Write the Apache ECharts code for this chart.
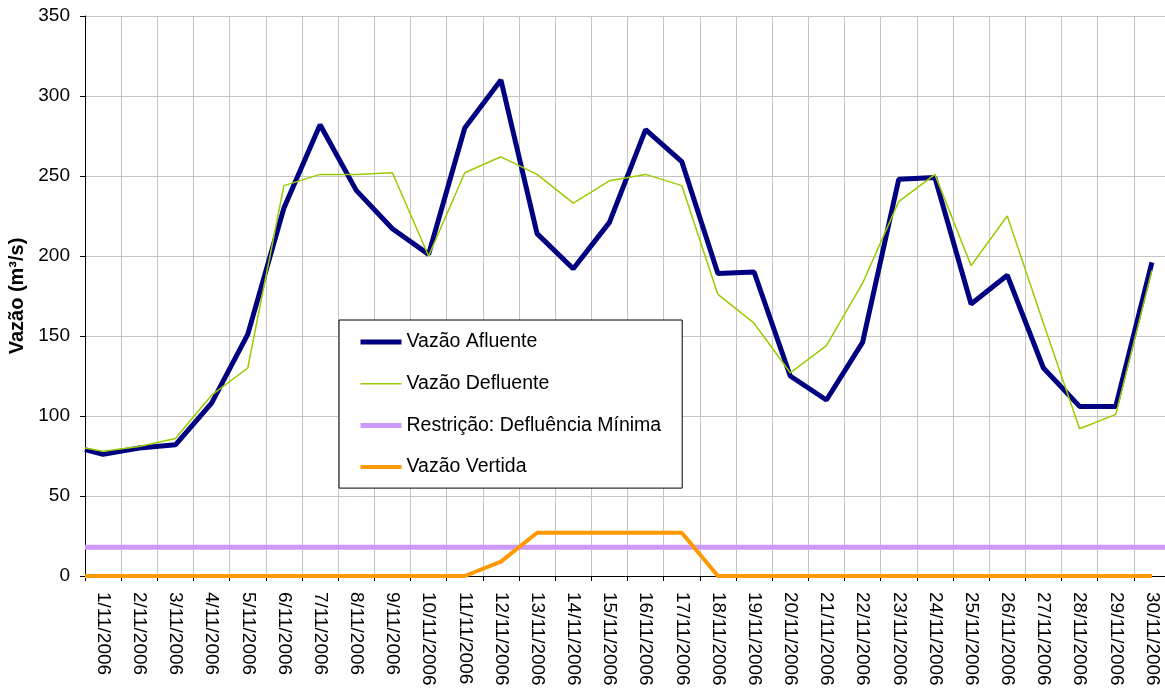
<!DOCTYPE html>
<html>
<head>
<meta charset="utf-8">
<title>Vazões - Novembro 2006</title>
<script src="https://cdn.jsdelivr.net/npm/echarts@6/dist/echarts.min.js"></script>
<style>
  html, body { margin: 0; padding: 0; background: #ffffff; }
  #chart { width: 1165px; height: 688px; }
</style>
</head>
<body>
<div id="chart"></div>
<script>
// Dias do mês (rótulos do eixo de categorias)
const dias = [
  '1/11/2006', '2/11/2006', '3/11/2006', '4/11/2006', '5/11/2006',
  '6/11/2006', '7/11/2006', '8/11/2006', '9/11/2006', '10/11/2006',
  '11/11/2006', '12/11/2006', '13/11/2006', '14/11/2006', '15/11/2006',
  '16/11/2006', '17/11/2006', '18/11/2006', '19/11/2006', '20/11/2006',
  '21/11/2006', '22/11/2006', '23/11/2006', '24/11/2006', '25/11/2006',
  '26/11/2006', '27/11/2006', '28/11/2006', '29/11/2006', '30/11/2006'
];

// Vazões diárias (m³/s)
const vazaoAfluente = [76, 80, 82, 108, 151, 230, 282, 241, 217, 201,
  280, 310, 214, 192, 221, 279, 259, 189, 190, 125,
  110, 146, 248, 249, 170, 188, 130, 106, 106, 196];
const vazaoDefluente = [78, 81, 86, 113, 130, 244, 251, 251, 252, 200,
  252, 262, 251, 233, 247, 251, 244, 176, 158, 127,
  144, 183, 234, 251, 194, 225, 158, 92, 101, 191];
const vazaoVertida = [0, 0, 0, 0, 0, 0, 0, 0, 0, 0,
  0, 9, 27, 27, 27, 27, 27, 0, 0, 0,
  0, 0, 0, 0, 0, 0, 0, 0, 0, 0];

// Valores no início do período (borda esquerda do gráfico)
const inicioAfluente = 79;
const inicioDefluente = 80;
const inicioVertida = 0;

// Restrição operativa: defluência mínima (m³/s)
const defluenciaMinima = 18;

// Ticks do eixo de vazão
const eixoY = { min: 0, max: 350, intervalo: 50 };

// Cada dia ocupa uma unidade no eixo numérico; o valor fica no centro do dia
const comInicio = (inicio, valores) =>
  [[0, inicio]].concat(valores.map((v, i) => [i + 0.5, v]));

const fonte = 'Liberation Sans, Arial, sans-serif';
const cores = { afluente: '#000080', defluente: '#99cc00', restricao: '#cc99ff', vertida: '#ff9900' };
const larguras = { afluente: 5, defluente: 1.5, restricao: 5, vertida: 4 };

const chart = echarts.init(document.getElementById('chart'), null, { renderer: 'canvas' });

chart.setOption({
  animation: false,
  backgroundColor: '#ffffff',
  grid: { left: 85, top: 16, right: -5, bottom: 112, containLabel: false, outerBoundsMode: 'none' },
  xAxis: [
    {
      type: 'category',
      data: dias,
      boundaryGap: true,
      axisLine: { show: true, lineStyle: { color: '#000000', width: 1 } },
      axisTick: { show: true, length: 5, lineStyle: { color: '#000000' } },
      axisLabel: {
        interval: 0, rotate: -90, margin: 16,
        fontSize: 19, fontFamily: fonte, color: '#000000'
      },
      splitLine: { show: true, lineStyle: { color: '#c4c4c4', width: 1 } }
    },
    { type: 'value', min: 0, max: dias.length, show: false }
  ],
  yAxis: {
    type: 'value',
    min: eixoY.min, max: eixoY.max, interval: eixoY.intervalo,
    name: 'Vazão (m³/s)',
    nameLocation: 'middle', nameGap: 57, nameRotate: 90,
    nameTextStyle: { fontSize: 20, fontWeight: 'bold', fontFamily: fonte, color: '#000000' },
    axisLine: { show: true, lineStyle: { color: '#000000', width: 1 } },
    axisTick: { show: true, length: 5, lineStyle: { color: '#000000' } },
    axisLabel: { margin: 15, fontSize: 19, fontFamily: fonte, color: '#000000' },
    splitLine: { show: true, lineStyle: { color: '#c4c4c4', width: 1 } }
  },
  legend: {
    orient: 'vertical',
    left: 339, top: 320,
    padding: [12, 21, 11, 19],
    backgroundColor: '#ffffff',
    borderColor: '#000000', borderWidth: 1,
    itemWidth: 41, itemHeight: 20, itemGap: 21.7,
    itemStyle: { opacity: 0 },
    textStyle: { fontSize: 19.5, fontFamily: fonte, color: '#000000', lineHeight: 20 },
    data: [
      { name: 'Vazão Afluente', lineStyle: { width: larguras.afluente, color: cores.afluente } },
      { name: 'Vazão Defluente', lineStyle: { width: larguras.defluente, color: cores.defluente } },
      { name: 'Restrição: Defluência Mínima', lineStyle: { width: larguras.restricao, color: cores.restricao } },
      { name: 'Vazão Vertida', lineStyle: { width: larguras.vertida, color: cores.vertida } }
    ]
  },
  series: [
    {
      name: 'Vazão Afluente', type: 'line', xAxisIndex: 1,
      symbol: 'none', color: cores.afluente,
      lineStyle: { color: cores.afluente, width: larguras.afluente },
      data: comInicio(inicioAfluente, vazaoAfluente)
    },
    {
      name: 'Vazão Defluente', type: 'line', xAxisIndex: 1,
      symbol: 'none', color: cores.defluente,
      lineStyle: { color: cores.defluente, width: larguras.defluente },
      data: comInicio(inicioDefluente, vazaoDefluente)
    },
    {
      name: 'Restrição: Defluência Mínima', type: 'line', xAxisIndex: 1,
      symbol: 'none', color: cores.restricao,
      lineStyle: { color: cores.restricao, width: larguras.restricao },
      data: [[0, defluenciaMinima], [dias.length, defluenciaMinima]]
    },
    {
      name: 'Vazão Vertida', type: 'line', xAxisIndex: 1,
      symbol: 'none', color: cores.vertida,
      lineStyle: { color: cores.vertida, width: larguras.vertida },
      data: comInicio(inicioVertida, vazaoVertida)
    }
  ]
});
</script>
</body>
</html>
